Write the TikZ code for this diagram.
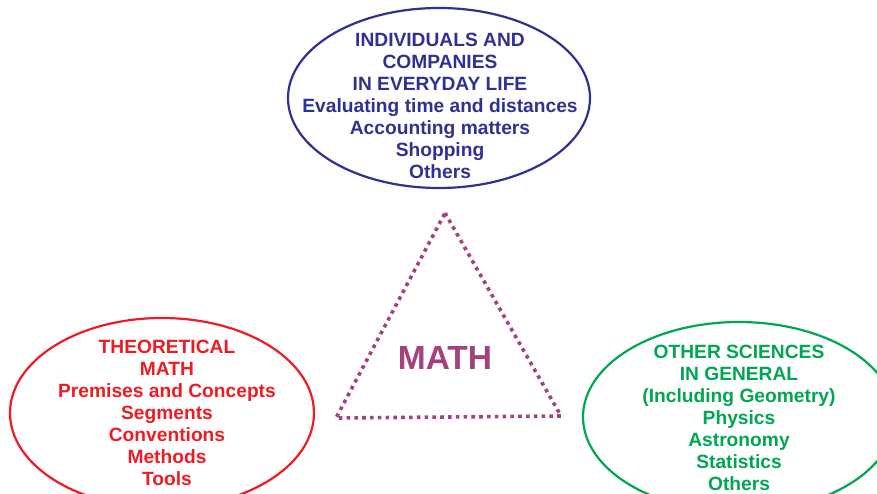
\documentclass[tikz,border=0pt]{standalone}
\usepackage{fontspec}
\setmainfont{Liberation Sans}
\usetikzlibrary{shapes.geometric}
\definecolor{lifeblue}{HTML}{2E3192}
\definecolor{theored}{HTML}{ED1C24}
\definecolor{scigreen}{HTML}{00A651}
\definecolor{mathpurple}{HTML}{A3427E}
\tikzset{
  area/.style={ellipse, draw=#1, line width=2.2pt, inner sep=0pt},
  areatext/.style={text=#1, font=\fontsize{19.2}{22}\selectfont\bfseries, align=center, inner sep=0pt},
  corner/.style={inner sep=0pt, minimum size=0pt},
}
\begin{document}
\begin{tikzpicture}[x=1pt, y=-1pt]
\useasboundingbox (0,0) rectangle (877,494);
\clip (0,0) rectangle (877,494);

% everyday life
\node[area=lifeblue, minimum width=302pt, minimum height=180pt] (life) at (439,98) {};
\node[areatext=lifeblue] (lifetext) at (440,106) {INDIVIDUALS AND\\COMPANIES\\IN EVERYDAY LIFE\\Evaluating time and distances\\Accounting matters\\Shopping\\Others};

% theoretical math
\node[area=theored, minimum width=304pt, minimum height=190pt] (theory) at (162,413) {};
\node[areatext=theored] (theorytext) at (167,413) {THEORETICAL\\MATH\\Premises and Concepts\\Segments\\Conventions\\Methods\\Tools};

% other sciences
\node[area=scigreen, minimum width=312pt, minimum height=190pt] (sci) at (739,417) {};
\node[areatext=scigreen] (scitext) at (739,417.5) {OTHER SCIENCES\\IN GENERAL\\(Including Geometry)\\Physics\\Astronomy\\Statistics\\Others};

% central dotted triangle
\node[corner] (apex) at (445,213) {};
\node[corner] (bl) at (336,418) {};
\node[corner] (br) at (561,416) {};
\draw[mathpurple, line width=3.6pt, dash pattern=on 3.6pt off 4.2pt]
  (apex.center) -- (br.center) -- (bl.center) -- cycle;
\node[text=mathpurple, font=\fontsize{33.5}{40}\selectfont\bfseries, inner sep=0pt] (math) at (445,358) {MATH};
\end{tikzpicture}
\end{document}
